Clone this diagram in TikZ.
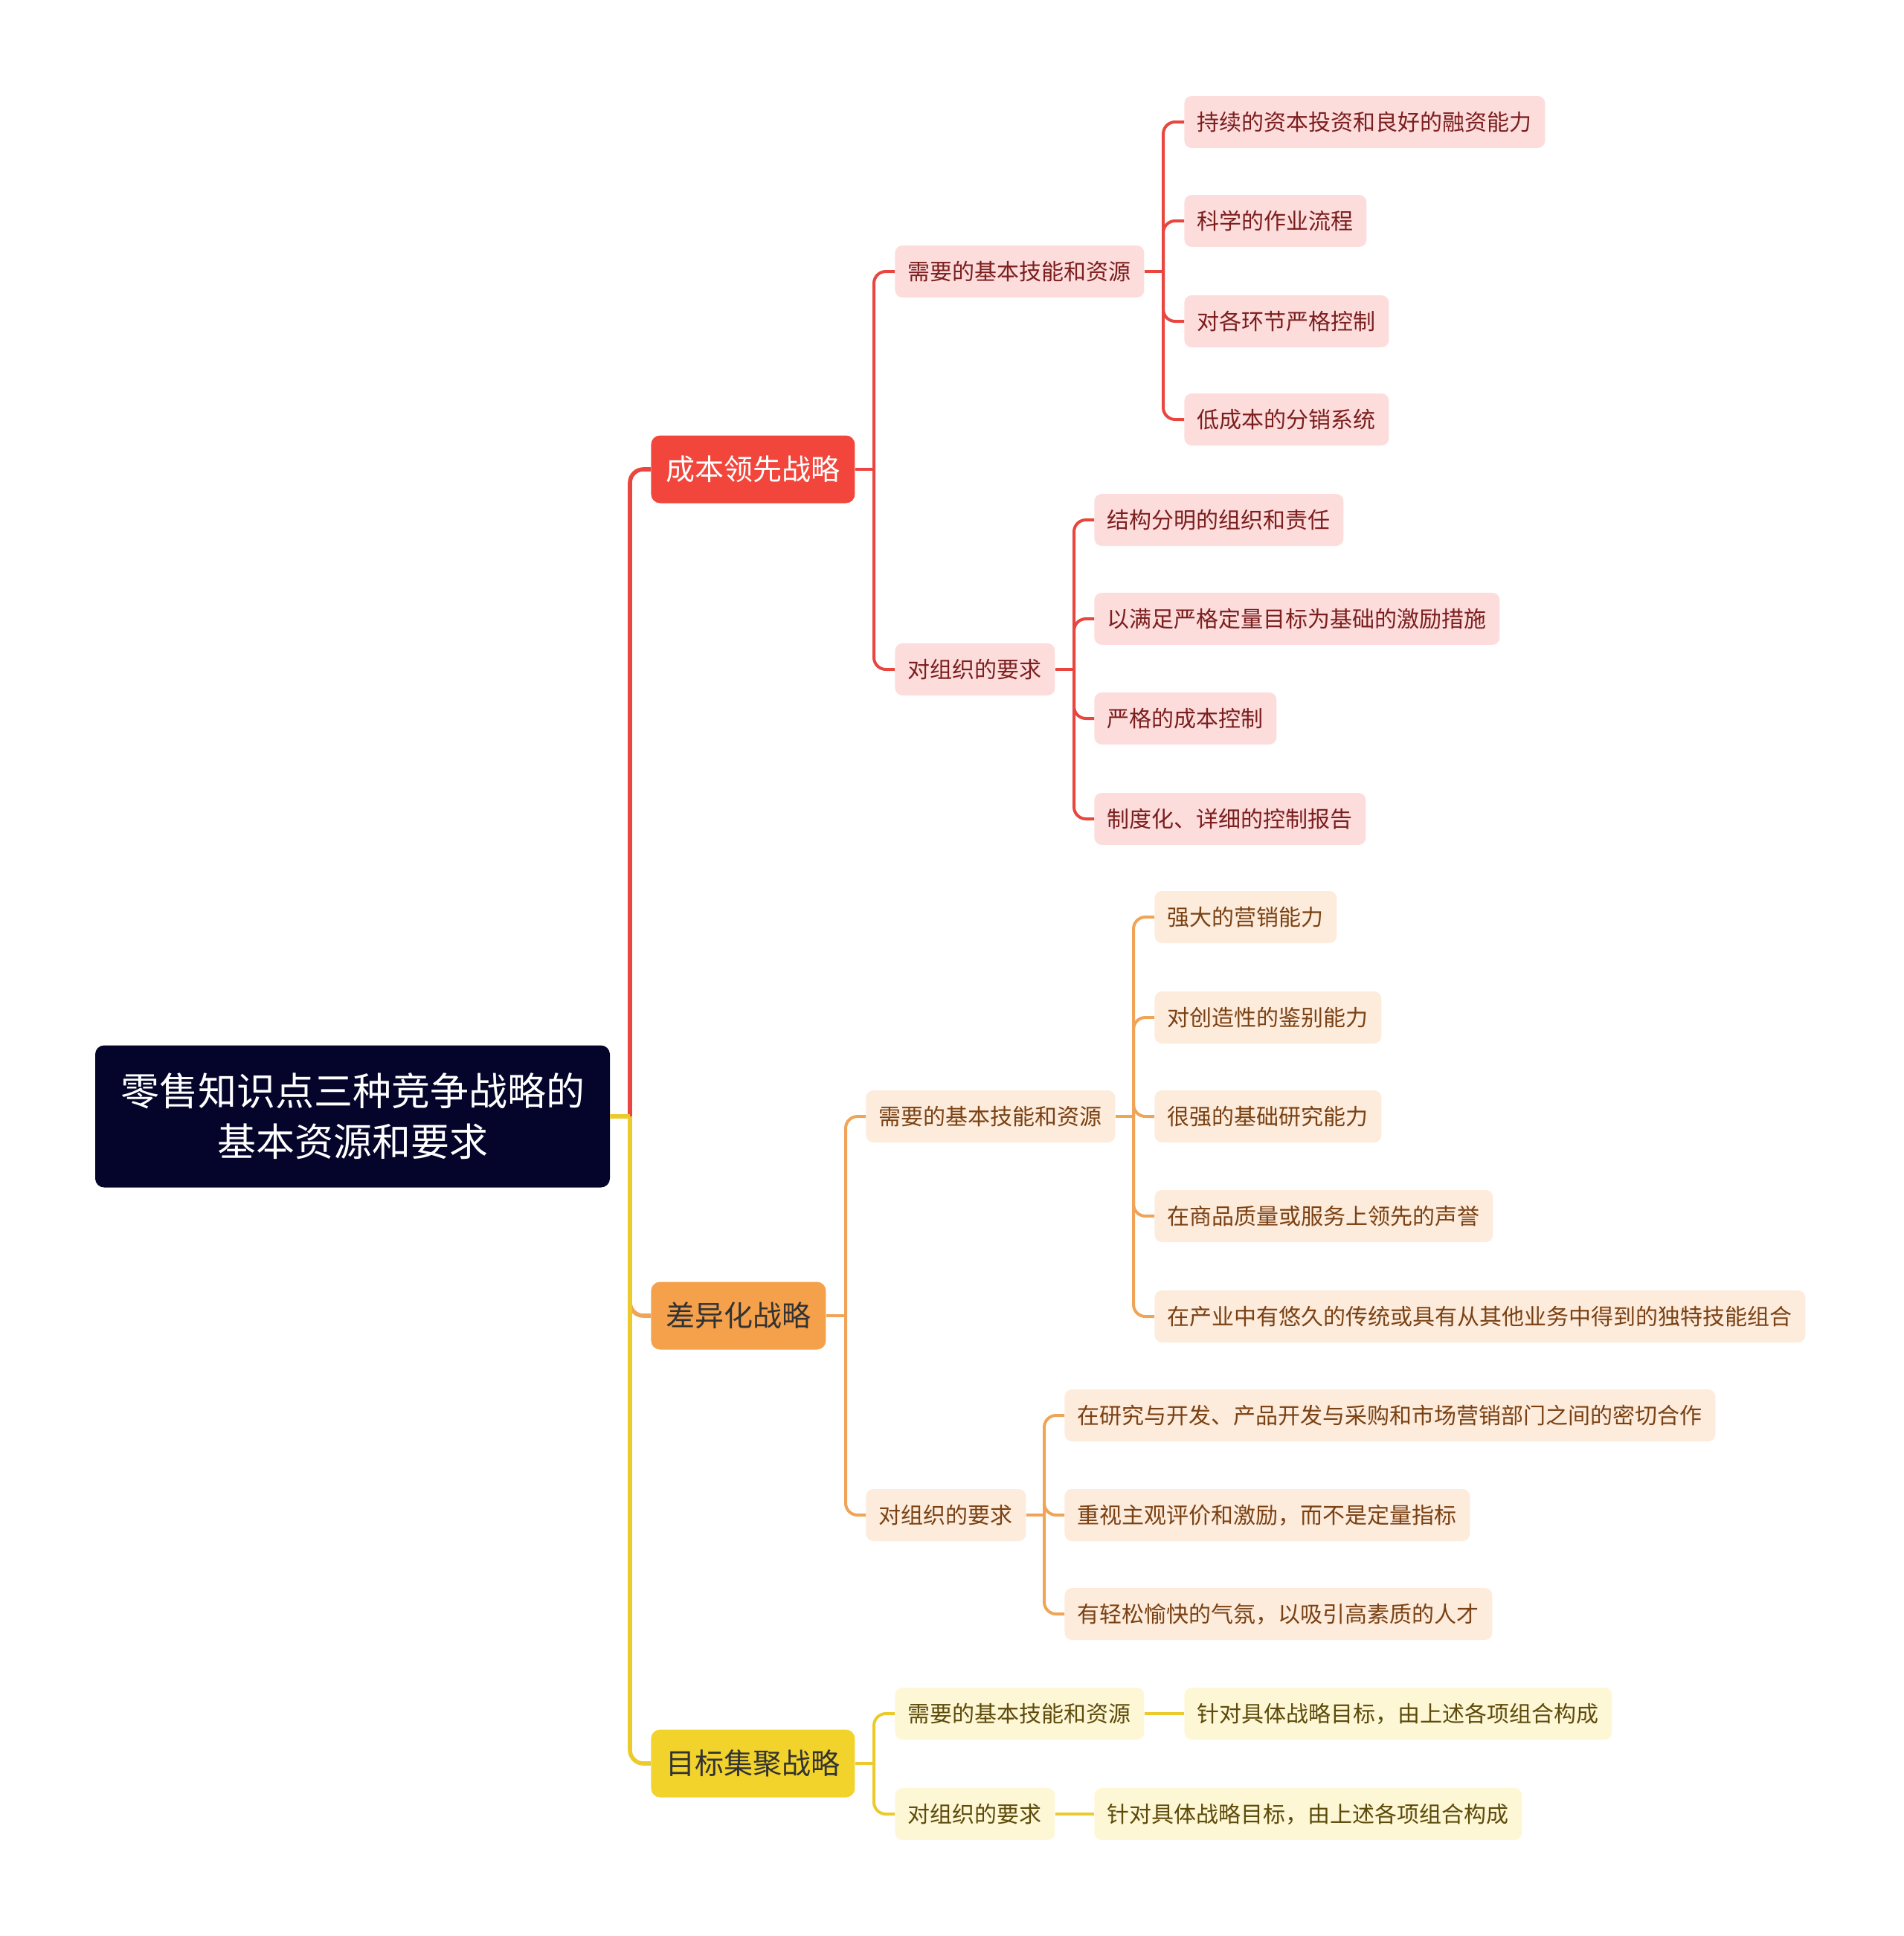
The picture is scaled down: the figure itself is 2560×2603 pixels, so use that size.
\documentclass[tikz,border=0pt]{standalone}
\usepackage{fontspec}
\setmainfont{Noto Sans CJK SC}
\definecolor{navy}{HTML}{05052B}
\definecolor{redmain}{HTML}{F2463C}
\definecolor{orgmain}{HTML}{F5A04B}
\definecolor{ylwmain}{HTML}{F2D32B}
\definecolor{redlt}{HTML}{FDDCDC}
\definecolor{orglt}{HTML}{FDEBDC}
\definecolor{ylwlt}{HTML}{FEF7D6}
\definecolor{redtx}{HTML}{7B1E1E}
\definecolor{orgtx}{HTML}{7A4214}
\definecolor{ylwtx}{HTML}{5C4B0A}
\definecolor{redln}{HTML}{E8463E}
\definecolor{orgln}{HTML}{EFA457}
\definecolor{ylwln}{HTML}{EBCB2B}
\begin{document}
\begin{tikzpicture}[x=0.5pt,y=-0.5pt,
	box/.style={rounded corners=5pt, anchor=west, inner xsep=8.75pt, minimum height=35pt, font=\fontsize{15}{18}\selectfont},
	redbox/.style={box, fill=redlt, text=redtx},
	orgbox/.style={box, fill=orglt, text=orgtx},
	ylwbox/.style={box, fill=ylwlt, text=ylwtx},
	mainbox/.style={rounded corners=6pt, anchor=west, inner xsep=10pt, minimum height=45.5pt, font=\fontsize{19.5}{23}\selectfont},
	link/.style={line width=2pt, rounded corners=8pt},
	trunk/.style={line width=2.8pt, rounded corners=9pt}]
	\useasboundingbox (0,0) rectangle (2560,2603);
	% root
	\node[fill=navy, text=white, rounded corners=6pt, minimum width=346pt, minimum height=95.5pt, align=center, font=\fontsize{26}{34}\selectfont] (root) at (474,1501) {零售知识点三种竞争战略的\\基本资源和要求};
	% first level
	\node[mainbox, fill=redmain, text=white] (cost) at (875,631) {成本领先战略};
	\node[mainbox, fill=orgmain, text=black!80] (diff) at (875,1769) {差异化战略};
	\node[mainbox, fill=ylwmain, text=black!80] (focus) at (875,2371) {目标集聚战略};
	% cost leadership
	\node[redbox] (cres) at (1203,365) {需要的基本技能和资源};
	\node[redbox] (corg) at (1203,900) {对组织的要求};
	\node[redbox] (c1) at (1592,164) {持续的资本投资和良好的融资能力};
	\node[redbox] (c2) at (1592,297) {科学的作业流程};
	\node[redbox] (c3) at (1592,432) {对各环节严格控制};
	\node[redbox] (c4) at (1592,564) {低成本的分销系统};
	\node[redbox] (co1) at (1471,699) {结构分明的组织和责任};
	\node[redbox] (co2) at (1471,832) {以满足严格定量目标为基础的激励措施};
	\node[redbox] (co3) at (1471,966) {严格的成本控制};
	\node[redbox] (co4) at (1471,1101) {制度化、详细的控制报告};
	% differentiation
	\node[orgbox] (dres) at (1164,1501) {需要的基本技能和资源};
	\node[orgbox] (dorg) at (1164,2037) {对组织的要求};
	\node[orgbox] (d1) at (1552,1233) {强大的营销能力};
	\node[orgbox] (d2) at (1552,1368) {对创造性的鉴别能力};
	\node[orgbox] (d3) at (1552,1501) {很强的基础研究能力};
	\node[orgbox] (d4) at (1552,1635) {在商品质量或服务上领先的声誉};
	\node[orgbox] (d5) at (1552,1770) {在产业中有悠久的传统或具有从其他业务中得到的独特技能组合};
	\node[orgbox] (do1) at (1431,1903) {在研究与开发、产品开发与采购和市场营销部门之间的密切合作};
	\node[orgbox] (do2) at (1431,2037) {重视主观评价和激励，而不是定量指标};
	\node[orgbox] (do3) at (1431,2170) {有轻松愉快的气氛，以吸引高素质的人才};
	% focus
	\node[ylwbox] (fres) at (1203,2304) {需要的基本技能和资源};
	\node[ylwbox] (forg) at (1203,2439) {对组织的要求};
	\node[ylwbox] (f1) at (1592,2304) {针对具体战略目标，由上述各项组合构成};
	\node[ylwbox] (f2) at (1471,2439) {针对具体战略目标，由上述各项组合构成};
	% trunk points
	\coordinate (troot) at (847,1501);
	\coordinate (tcost) at (1175,631);
	\coordinate (tcres) at (1564,365);
	\coordinate (tcorg) at (1444,900);
	\coordinate (tdiff) at (1137,1769);
	\coordinate (tdres) at (1524,1501);
	\coordinate (tdorg) at (1404,2037);
	\coordinate (tfocus) at (1175,2371);
	% connectors
	\draw[trunk, redln] (troot) |- (cost.west);
	\draw[trunk, orgln] (troot) |- (diff.west);
	\draw[trunk, ylwln] (troot) |- (focus.west);
	\draw[trunk, ylwln] (root.east) -- (troot);
	\draw[link, redln] (cost.east) -- (tcost);
	\draw[link, redln] (tcost) |- (cres.west);
	\draw[link, redln] (tcost) |- (corg.west);
	\draw[link, redln] (cres.east) -- (tcres);
	\foreach \c in {c1,c2,c3,c4}
		\draw[link, redln] (tcres) |- (\c.west);
	\draw[link, redln] (corg.east) -- (tcorg);
	\foreach \c in {co1,co2,co3,co4}
		\draw[link, redln] (tcorg) |- (\c.west);
	\draw[link, orgln] (diff.east) -- (tdiff);
	\draw[link, orgln] (tdiff) |- (dres.west);
	\draw[link, orgln] (tdiff) |- (dorg.west);
	\draw[link, orgln] (dres.east) -- (tdres);
	\foreach \c in {d1,d2,d3,d4,d5}
		\draw[link, orgln] (tdres) |- (\c.west);
	\draw[link, orgln] (dorg.east) -- (tdorg);
	\foreach \c in {do1,do2,do3}
		\draw[link, orgln] (tdorg) |- (\c.west);
	\draw[link, ylwln] (focus.east) -- (tfocus);
	\draw[link, ylwln] (tfocus) |- (fres.west);
	\draw[link, ylwln] (tfocus) |- (forg.west);
	\draw[link, ylwln] (fres) -- (f1);
	\draw[link, ylwln] (forg) -- (f2);
\end{tikzpicture}
\end{document}
